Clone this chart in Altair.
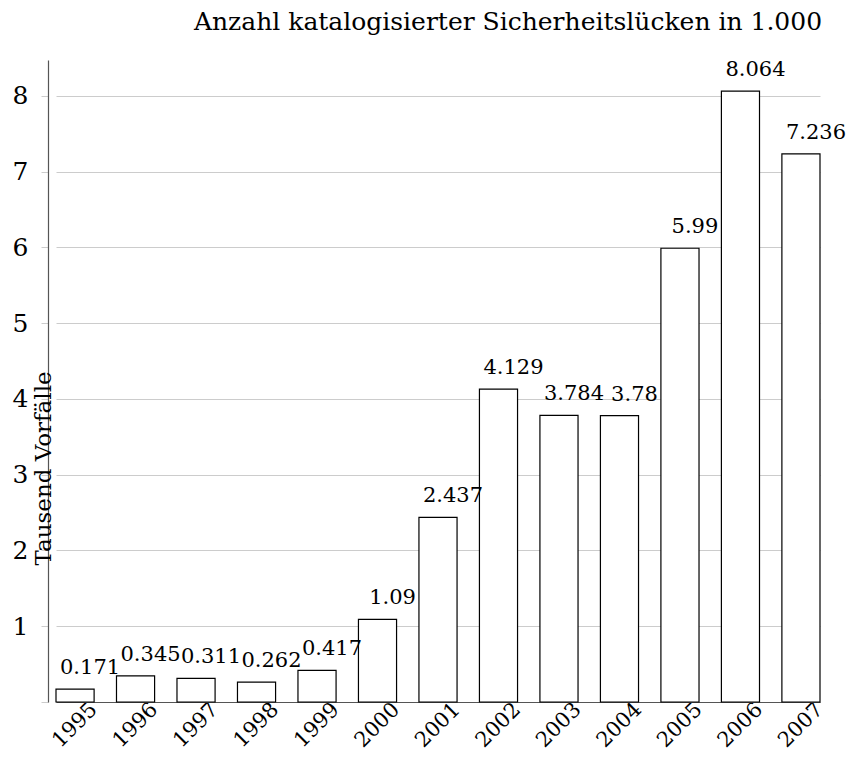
import altair as alt
import pandas as pd

years = ["1995", "1996", "1997", "1998", "1999", "2000", "2001",
         "2002", "2003", "2004", "2005", "2006", "2007"]
values = [0.171, 0.345, 0.311, 0.262, 0.417, 1.09, 2.437,
          4.129, 3.784, 3.78, 5.99, 8.064, 7.236]
labels = ["0.171", "0.345", "0.311", "0.262", "0.417", "1.09", "2.437",
          "4.129", "3.784", "3.78", "5.99", "8.064", "7.236"]
y_ticks = [0, 1, 2, 3, 4, 5, 6, 7, 8]

df = pd.DataFrame({"year": years, "value": values, "label": labels})

FONT = "DejaVu Serif"
FS = 21

x_enc = alt.X(
    "year:N",
    sort=years,
    scale=alt.Scale(range=[8, 772], paddingInner=0.37, paddingOuter=0),
    axis=alt.Axis(
        title=None,
        labelAngle=315,
        labelAlign="right",
        labelBaseline="middle",
        labelOffset=19,
        labelPadding=4,
        labelFont=FONT,
        labelFontSize=FS,
        labelColor="black",
        ticks=False,
        domainColor="#555555",
        domainWidth=1.2,
        grid=False,
    ),
)

y_enc = alt.Y(
    "value:Q",
    scale=alt.Scale(domain=[0, 8.475], nice=False, zero=True),
    axis=alt.Axis(
        title="Tausend Vorfälle",
        titleFont=FONT,
        titleFontSize=23,
        titleFontWeight="normal",
        titleColor="black",
        titleAngle=270,
        titleAlign="center",
        titleBaseline="alphabetic",
        titleX=2,
        titleY=408,
        values=y_ticks,
        format="d",
        labelExpr="datum.value == 0 ? '' : datum.label",
        labelFont=FONT,
        labelFontSize=25,
        labelColor="black",
        labelPadding=13,
        tickSize=7,
        tickColor="#cccccc",
        gridColor="#cccccc",
        gridWidth=1,
        domainColor="#555555",
        domainWidth=1.2,
    ),
)

bars = alt.Chart(df).mark_bar(
    fill="white", stroke="black", strokeWidth=1.2
).encode(x=x_enc, y=y_enc)

text = alt.Chart(df).mark_text(
    font=FONT, fontSize=FS, color="black", dx=15, dy=-15, baseline="alphabetic", align="center"
).encode(x=alt.X("year:N", sort=years), y=alt.Y("value:Q"), text="label:N")

chart = alt.layer(bars, text).properties(
    width=774,
    height=642,
    padding={"left": 40, "top": 52, "right": 25, "bottom": 50},
    autosize=alt.AutoSizeParams(type="none"),
    title=alt.TitleParams(
        "Anzahl katalogisierter Sicherheitslücken in 1.000",
        font=FONT,
        fontSize=25,
        fontWeight="normal",
        color="black",
        anchor="middle",
        dx=73,
        offset=24,
    ),
).configure_view(stroke=None)

chart.save("out.html", embed_options={"renderer": "svg", "actions": False})
